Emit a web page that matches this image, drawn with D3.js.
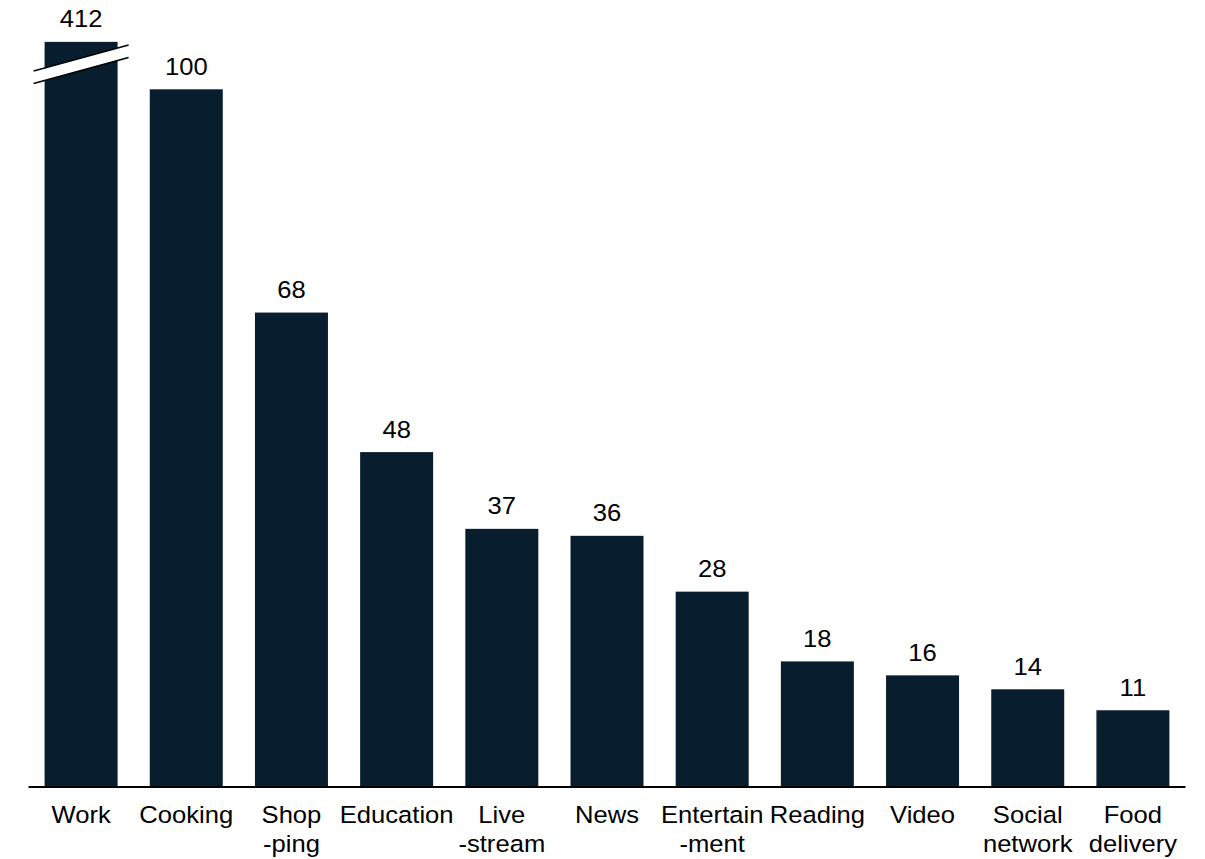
<!DOCTYPE html>
<html>
<head>
<meta charset="utf-8">
<script src="https://cdn.jsdelivr.net/npm/d3@7"></script>
<style>
  html, body { margin: 0; padding: 0; background: #fff; }
  svg { display: block; }
  text { font-family: "Liberation Sans", Arial, sans-serif; fill: #000; }
</style>
</head>
<body>
<svg id="chart" width="1205" height="859"></svg>
<script>
// Categories (each entry is the lines of its axis label)
const categories = ["Work", "Cooking", "Shopping", "Education", "Livestream", "News",
  "Entertainment", "Reading", "Video", "Social network", "Food delivery"];
const labelLines = [["Work"], ["Cooking"], ["Shop", "-ping"], ["Education"], ["Live", "-stream"],
  ["News"], ["Entertain", "-ment"], ["Reading"], ["Video"], ["Social", "network"], ["Food", "delivery"]];
const values = [412, 100, 68, 48, 37, 36, 28, 18, 16, 14, 11];
// Bars above this value are cut off and drawn with a break mark
const axisCap = 106.8;

const svg = d3.select("#chart");
const baseY = 787;
const barColor = "#081d2d";
const fontSize = 23.5;
const stretchX = 1.09;

const x = d3.scaleBand()
  .domain(categories)
  .range([28.5, 1185.5])
  .paddingInner(0.306)
  .paddingOuter(0.153);

const y = d3.scaleLinear()
  .domain([0, 100])
  .range([baseY, 89.3]);

const data = categories.map((c, i) => ({ cat: c, value: values[i], lines: labelLines[i] }));
const cx = d => x(d.cat) + x.bandwidth() / 2;

// Bars
svg.append("g").selectAll("rect")
  .data(data)
  .join("rect")
  .attr("x", d => x(d.cat))
  .attr("width", x.bandwidth())
  .attr("y", d => y(Math.min(d.value, axisCap)))
  .attr("height", d => baseY - y(Math.min(d.value, axisCap)))
  .attr("fill", barColor);

// Break marks on truncated bars
const broken = data.filter(d => d.value > axisCap);
broken.forEach(d => {
  const x0 = x(d.cat) - 11, x1 = x(d.cat) + x.bandwidth() + 11;
  const g = svg.append("g");
  const upper = [[x0, 71], [x1, 45]];
  const lower = [[x0, 83.5], [x1, 57.5]];
  g.append("path")
    .attr("d", d3.line()([upper[0], upper[1], lower[1], lower[0]]) + "Z")
    .attr("fill", "#fff");
  [upper, lower].forEach(seg => {
    g.append("path")
      .attr("d", d3.line()(seg))
      .attr("stroke", "#000")
      .attr("stroke-width", 1.6)
      .attr("fill", "none");
  });
});

// Value labels
svg.append("g").selectAll("text")
  .data(data)
  .join("text")
  .attr("transform", d => `translate(${cx(d)},${y(Math.min(d.value, axisCap)) - 14.5}) scale(${stretchX},1)`)
  .attr("text-anchor", "middle")
  .attr("font-size", fontSize)
  .text(d => d.value);

// Baseline
svg.append("line")
  .attr("x1", 28.5).attr("x2", 1185.5)
  .attr("y1", baseY).attr("y2", baseY)
  .attr("stroke", "#000")
  .attr("stroke-width", 2);

// Category labels
const lab = svg.append("g").selectAll("text")
  .data(data)
  .join("text")
  .attr("transform", d => `translate(${cx(d)},823) scale(${stretchX},1)`)
  .attr("text-anchor", "middle")
  .attr("font-size", fontSize);
lab.selectAll("tspan")
  .data(d => d.lines)
  .join("tspan")
  .attr("x", 0)
  .attr("dy", (t, i) => i === 0 ? 0 : 29.5)
  .text(t => t);
</script>
</body>
</html>
